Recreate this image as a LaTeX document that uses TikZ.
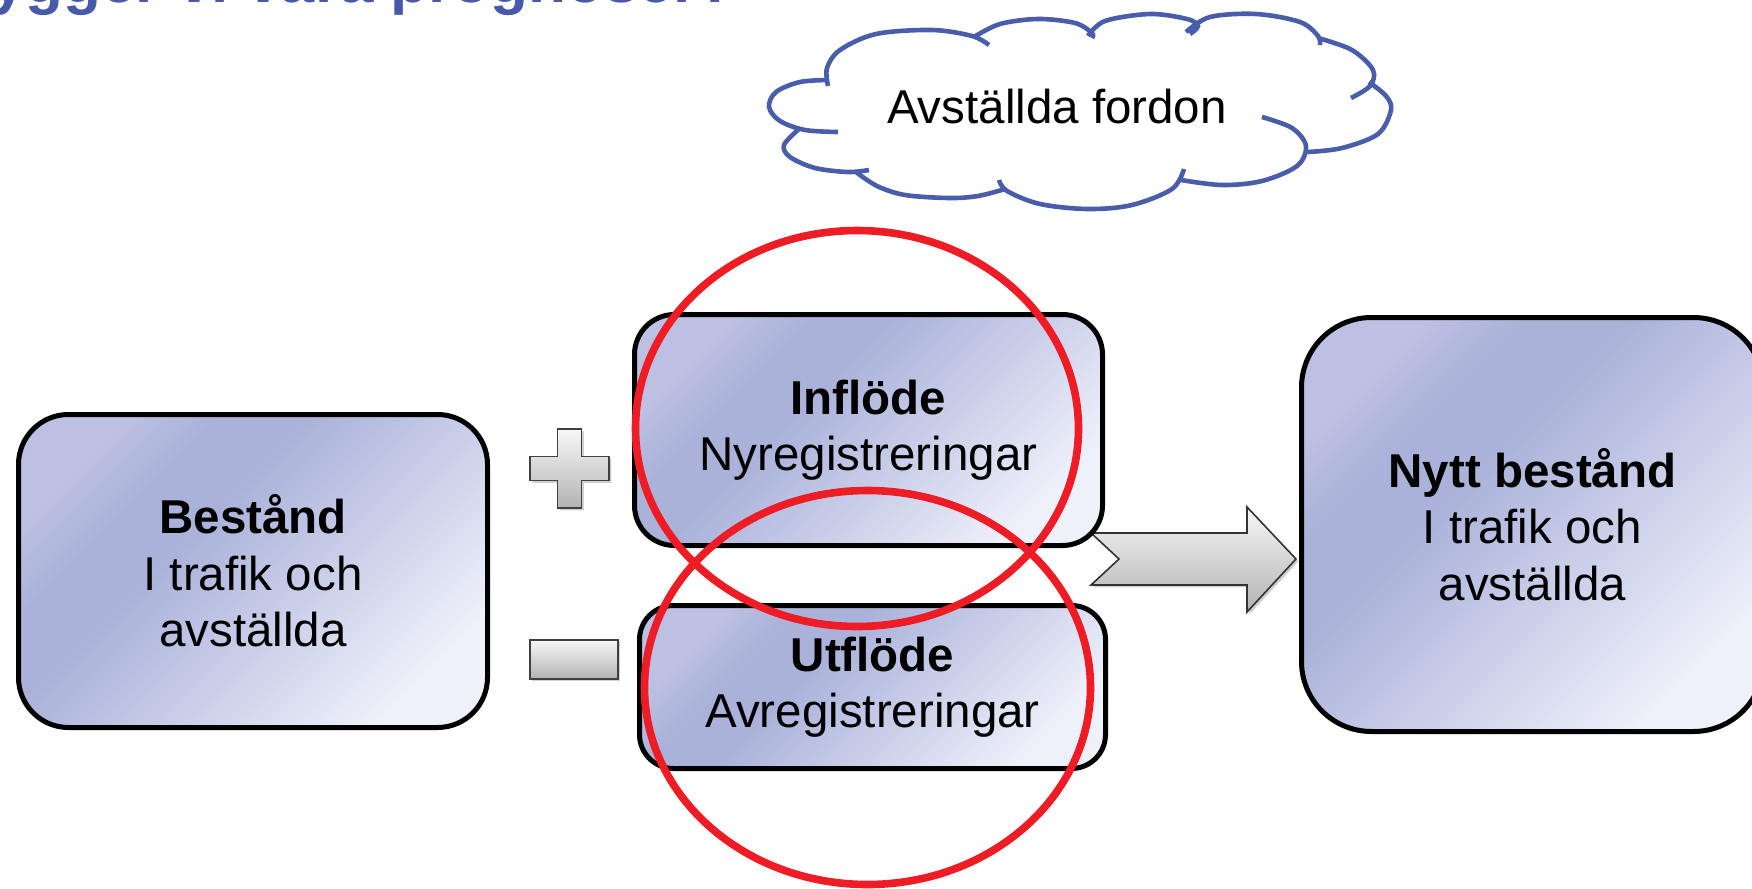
\documentclass[tikz,border=0pt]{standalone}
\usepackage{fontspec}
\setmainfont{Liberation Sans}
\usetikzlibrary{shadows}
\definecolor{bxA}{HTML}{BCC0E2}
\definecolor{bxB}{HTML}{AAB2DA}
\definecolor{bxC}{HTML}{EEF0FA}
\definecolor{cloudblue}{HTML}{4A5DAA}
\definecolor{titleblue}{HTML}{4759A8}
\definecolor{ringred}{HTML}{EE1C25}
\pgfdeclarehorizontalshading{boxshade}{100bp}{color(0bp)=(bxA); color(25bp)=(bxA); color(33bp)=(bxB); color(41bp)=(bxB); color(75bp)=(bxC); color(100bp)=(bxC)}
\newcommand\bodyfnt{\fontsize{23.75pt}{28.25pt}\selectfont}
\begin{document}
\begin{tikzpicture}[x=0.5pt,y=-0.5pt,
  boxn/.style={draw=black, line width=2.5pt, rounded corners=#1, shading=boxshade, shading angle=-45,
    inner sep=0pt, align=center, font=\bodyfnt},
  boxn/.default=20pt,
  signfill/.style={draw=black!75, line width=0.8pt, top color=black!3, bottom color=black!30,
    drop shadow={shadow xshift=1.2pt, shadow yshift=-1.2pt, opacity=0.3, fill=black!60}},
  cloudline/.style={draw=cloudblue, line width=2.3pt},
  ring/.style={draw=ringred, line width=3.8pt}]
\useasboundingbox (0,0) rectangle (1752,889);
\clip (0,0) rectangle (1752,889);
\fill[white] (0,0) rectangle (1752,889);

% title (cut off at the top, as in the reference)
\node[anchor=base west, inner sep=0pt, text=titleblue, font=\bfseries\fontsize{31pt}{36pt}\selectfont] (title) at (-171,2) {Hur bygger vi våra prognoser?};

% cloud
\draw[cloudline] plot[smooth, tension=0.55] coordinates {(828,86) (827,68) (840,50) (876,34) (932,30) (972,36) (989,45)};
\draw[cloudline] plot[smooth, tension=0.55] coordinates {(974,37) (1000,24) (1038,19) (1075,23) (1092,33) (1092,38)};
\draw[cloudline] plot[smooth, tension=0.55] coordinates {(1088,36) (1105,21) (1150,14) (1187,19) (1198,26) (1190,34)};
\draw[cloudline] plot[smooth, tension=0.55] coordinates {(1186,32) (1210,17) (1256,14) (1300,22) (1318,36) (1320,45)};
\draw[cloudline] plot[smooth, tension=0.55] coordinates {(1318,38) (1352,50) (1373,70) (1370,86) (1351,98)};
\draw[cloudline] plot[smooth, tension=0.55] coordinates {(1369,82) (1386,96) (1391,110) (1378,134) (1342,148) (1308,152)};
\draw[cloudline] plot[smooth, tension=0.55] coordinates {(1262,117) (1292,128) (1306,146) (1297,166) (1262,181) (1222,185) (1181,180)};
\draw[cloudline] plot[smooth, tension=0.55] coordinates {(1184,169) (1172,189) (1132,205) (1088,209) (1040,204) (1007,191) (999,180)};
\draw[cloudline] plot[smooth, tension=0.55] coordinates {(1005,189) (978,196) (949,198) (905,195) (877,186) (856,172)};
\draw[cloudline] plot[smooth, tension=0.55] coordinates {(869,170) (848,172) (815,168) (790,157) (784,145) (799,129)};
\draw[cloudline] plot[smooth, tension=0.55] coordinates {(838,132) (805,130) (780,121) (769,107) (776,92) (800,82) (829,80)};
\node[anchor=base, inner sep=0pt, font=\bodyfnt] (cloudtxt) at (1057,123) {Avställda fordon};

% block arrow
\filldraw[signfill, draw=black!80] (1091,533) -- (1247,533) -- (1247,507) -- (1296,559) -- (1247,612) -- (1247,585) -- (1091,585) -- (1119,559) -- cycle;

% plus and minus
\filldraw[signfill] (557.5,429) -- (581.5,429) -- (581.5,456.5) -- (609,456.5) -- (609,480.5) -- (581.5,480.5)
  -- (581.5,508) -- (557.5,508) -- (557.5,480.5) -- (530,480.5) -- (530,456.5) -- (557.5,456.5) -- cycle;
\filldraw[signfill] (530,640) rectangle (618,679);

% boxes
\node[boxn=25pt, minimum width=234.5pt, minimum height=156.5pt] (best) at (253,571) {\textbf{Bestånd}\\I trafik och\\avställda};
\node[boxn=20pt, minimum width=234pt, minimum height=115.5pt] (infl) at (868.5,430) {\textbf{Inflöde}\\Nyregistreringar};
\node[boxn=17pt, minimum width=233pt, minimum height=81.5pt] (utfl) at (872.5,687) {\textbf{Utflöde}\\Avregistreringar};
\node[boxn=35pt, minimum width=231pt, minimum height=207pt] (nytt) at (1532.5,524.5) {\textbf{Nytt bestånd}\\I trafik och\\avställda};

% red rings
\draw[ring] (857,428.5) ellipse [x radius=110.75pt, y radius=99pt];
\draw[ring] (867.5,687.5) ellipse [x radius=111.5pt, y radius=98.5pt];
\end{tikzpicture}
\end{document}
